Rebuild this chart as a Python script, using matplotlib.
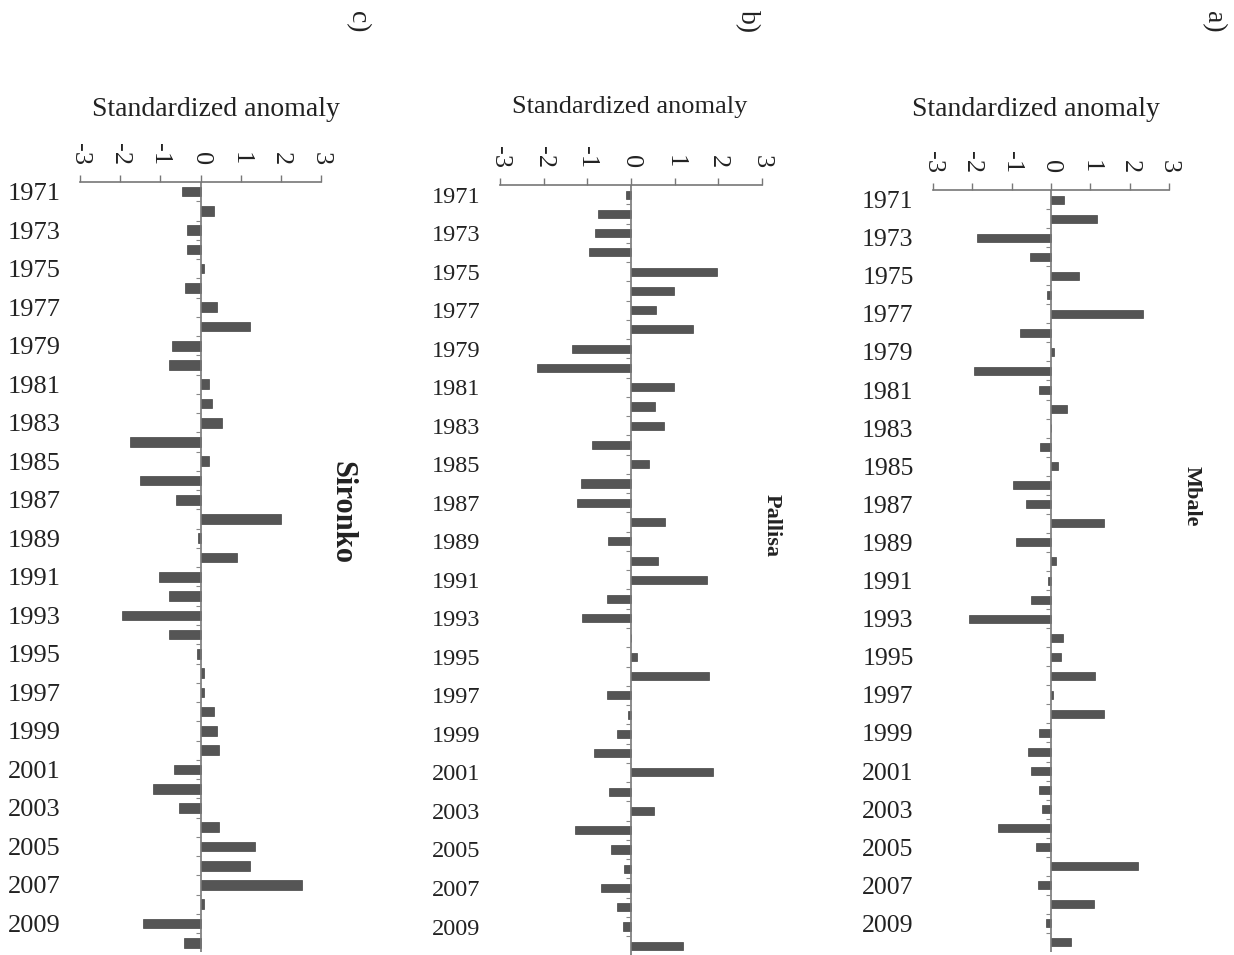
import numpy as np
import matplotlib.pyplot as plt

plt.rcParams['font.family'] = ['Liberation Serif', 'DejaVu Serif']
plt.rcParams['axes.unicode_minus'] = False

years = np.arange(1971, 2011)
year_labels = [str(y) for y in years[::2]]
tick_vals = [-3, -2, -1, 0, 1, 2, 3]
tick_labels = ['-3', '-2', '-1', '0', '1', '2', '3']

mbale = [0.32, 1.18, -1.88, -0.53, 0.72, -0.10, 2.34, -0.80, 0.08, -1.95,
         -0.30, 0.40, 0.00, -0.27, 0.17, -0.97, -0.63, 1.34, -0.88, 0.12,
         -0.08, -0.52, -2.09, 0.31, 0.26, 1.12, 0.06, 1.36, -0.30, -0.58,
         -0.52, -0.30, -0.22, -1.35, -0.38, 2.22, -0.34, 1.10, -0.12, 0.50]

pallisa = [-0.12, -0.75, -0.82, -0.96, 1.96, 0.98, 0.58, 1.43, -1.36, -2.15,
           0.98, 0.56, 0.75, -0.90, 0.42, -1.15, -1.24, 0.77, -0.52, 0.62,
           1.75, -0.55, -1.12, 0.00, 0.13, 1.78, -0.55, -0.06, -0.33, -0.85,
           1.88, -0.50, 0.52, -1.28, -0.45, -0.15, -0.68, -0.32, -0.19, 1.18]

sironko = [-0.46, 0.34, -0.33, -0.33, 0.08, -0.39, 0.41, 1.24, -0.71, -0.78,
           0.22, 0.28, 0.54, -1.75, 0.22, -1.50, -0.60, 2.00, -0.05, 0.90,
           -1.04, -0.79, -1.95, -0.79, -0.08, 0.08, 0.08, 0.34, 0.40, 0.47,
           -0.67, -1.18, -0.54, 0.47, 1.36, 1.23, 2.52, 0.08, -1.43, -0.40]

W, H = 1234, 955
fig = plt.figure(figsize=(W / 100, H / 100), dpi=100)


def px_axes(x0, x1, y0, y1):
    return fig.add_axes([x0 / W, 1 - y1 / H, (x1 - x0) / W, (y1 - y0) / H])


def panel(vals, x0, x1, y0, step, bar_h, ylab_size):
    n = len(vals)
    ax = px_axes(x0, x1, y0, y0 + n * step)
    idx = np.arange(n)
    ax.barh(idx, vals, height=bar_h, color='#555555', edgecolor='#444444', linewidth=0.5)
    ax.axvline(0, color='#777777', lw=1.2, zorder=3)
    # little year ticks along the zero line
    ax.scatter(np.zeros(n - 1), idx[:-1] + 0.5, marker=0, s=12, color='#888888', lw=0.8, zorder=3)
    ax.set_xlim(-3, 3)
    ax.set_ylim(n - 0.5, -0.5)
    for s in ['left', 'right', 'bottom']:
        ax.spines[s].set_visible(False)
    ax.spines['top'].set_color('#777777')
    ax.spines['top'].set_linewidth(1.2)
    ax.xaxis.set_ticks_position('top')
    ax.set_xticks(tick_vals)
    ax.set_xticklabels(tick_labels)
    ax.tick_params(axis='x', direction='out', length=5, width=1, color='#777777',
                   labelsize=19, labelrotation=-90, pad=7, labelcolor='#222222')
    ax.set_yticks(idx[::2])
    ax.set_yticklabels(year_labels)
    ax.tick_params(axis='y', length=0, pad=14, labelsize=ylab_size, labelcolor='#222222')
    ax.patch.set_alpha(0)
    return ax


panel(sironko, 80, 321, 182, 19.26, 0.5, 19)
panel(pallisa, 500, 762, 185, 19.26, 0.42, 17.5)
panel(mbale, 933, 1169, 190, 19.05, 0.42, 18.5)


def ftext(x, y, s, **kw):
    fig.text(x / W, 1 - y / H, s, ha='center', va='center', color='#222222', **kw)


ftext(216, 110, 'Standardized anomaly', fontsize=20)
ftext(630, 107, 'Standardized anomaly', fontsize=19)
ftext(1036, 110, 'Standardized anomaly', fontsize=20)

ftext(342, 512, 'Sironko', fontsize=22, fontweight='bold', rotation=-90)
ftext(772, 525, 'Pallisa', fontsize=16, fontweight='bold', rotation=-90)
ftext(1192, 496, 'Mbale', fontsize=16, fontweight='bold', rotation=-90)

ftext(357, 22, 'c)', fontsize=20, rotation=-90)
ftext(747, 22, 'b)', fontsize=20, rotation=-90)
ftext(1213, 22, 'a)', fontsize=20, rotation=-90)

fig.savefig('out.png', dpi=100)
